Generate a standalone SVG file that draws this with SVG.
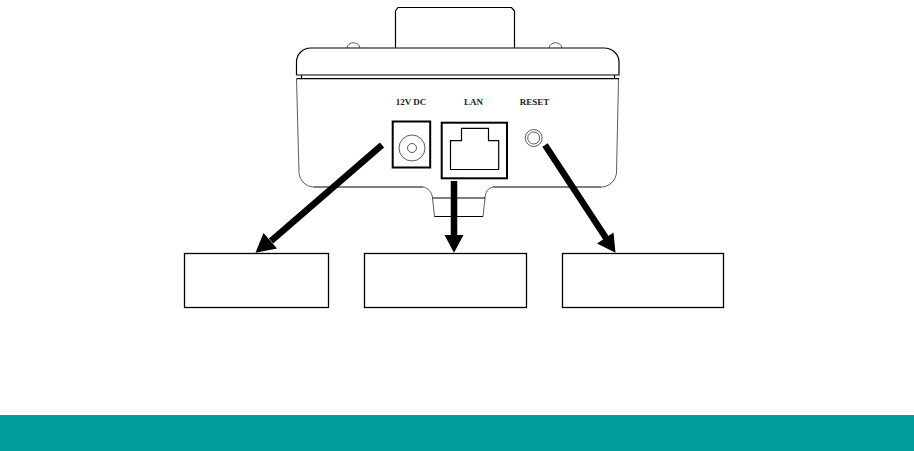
<svg xmlns="http://www.w3.org/2000/svg" width="914" height="451" viewBox="0 0 914 451">
<style>
.o{fill:none;stroke:#000;stroke-width:1.200}
.t{fill:none;stroke:#333;stroke-width:.8}
.b{fill:#fff;stroke:#000;stroke-width:1.300}
.p{fill:none;stroke:#000;stroke-width:2}
.l{font-family:"Liberation Serif",serif;font-weight:bold;font-size:9px;fill:#222;text-anchor:middle}
.c{stroke:#000;stroke-width:6.500;fill:none}
.h{fill:#000}
</style>
<rect width="914" height="451" fill="#fff"/>
<g id="device">
<path class="t" d="M347 48C348 41 359 41 360 48M549 48C550 41 561 41 562 48"/>
<path class="o" d="M395.500 48V11L398 7.500H511.500L514.500 11V48"/>
<path class="o" d="M296.500 75V62C296.500 54 303 48 311 48H604C612 48 619 54 619 62V75H296.500M301.500 75V78.500M614.500 75V78.500"/>
<path class="o" d="M296.500 78.700H619"/>
<path class="t" d="M296.500 79L299 173C300 181 306 187 314 187"/>
<path class="t" d="M618.500 79L616.500 173C615.500 181 609 187 601 187"/>
<path class="o" d="M314 187H423M493 187H601"/>
<path class="t" d="M423 187C428 188 432 192 432.500 198L434.500 216.500M493 187C488 188 485.500 192 485 198L483 216.500"/>
<path class="o" d="M432.500 198H485M434.500 216.500H483"/>
</g>
<g id="port-dc">
<rect class="p" x="392.700" y="121.500" width="37.500" height="46"/>
<circle class="t" cx="412" cy="148" r="13"/>
<circle class="t" cx="412" cy="148" r="4.500"/>
<text class="l" x="411" y="105">12V DC</text>
</g>
<g id="port-lan">
<rect class="p" x="441.700" y="122.700" width="65.300" height="55.600"/>
<path class="o" d="M450.500 169.500V140.700H461.500V128.300H488.500V140.700H498.700V169.500Z"/>
<text class="l" x="473.500" y="105">LAN</text>
</g>
<g id="port-reset">
<circle class="t" cx="533.700" cy="138" r="8.500" stroke-width="1"/>
<circle class="t" cx="533.700" cy="138" r="6"/>
<text class="l" x="534.500" y="105">RESET</text>
</g>
<g id="connectors">
<path class="c" d="M382 145L271 241"/>
<path class="h" d="M255.500 252.700L263.500 233L277 248.500Z"/>
<path class="c" d="M454 181V236"/>
<path class="h" d="M454 252.700L444.500 235H463.500Z"/>
<path class="c" d="M545 145L606 238"/>
<path class="h" d="M615.500 252.700L597 243.500L613.500 232.500Z"/>
</g>
<g id="box-1"><rect class="b" x="184.500" y="253.500" width="144" height="54"/></g>
<g id="box-2"><rect class="b" x="364.500" y="253.500" width="162" height="54"/></g>
<g id="box-3"><rect class="b" x="562.500" y="253.500" width="161" height="54"/></g>
<rect id="band" x="0" y="415" width="914" height="36" fill="#009b9b"/>
</svg>
